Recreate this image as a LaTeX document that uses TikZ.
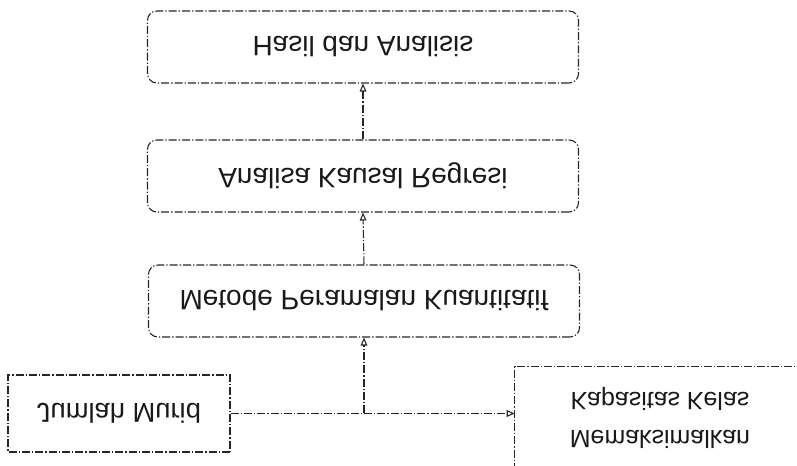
\documentclass[tikz,border=0pt]{standalone}
\usepackage{fontspec}
\setmainfont{Liberation Sans}
\usetikzlibrary{arrows.meta}
\begin{document}
\begin{tikzpicture}[x=0.75pt,y=-0.75pt,
  dline/.style={draw=black!85,line width=0.8pt,dash pattern=on 6pt off 1.5pt on 1pt off 1.5pt},
  mirrored/.style={yscale=-1},
  txt/.style={mirrored,align=center,text=black!90},
  stepbox/.style={dline,txt,font=\fontsize{21}{26}\selectfont,rounded corners=7pt,minimum width=431*0.75pt,minimum height=72*0.75pt,inner sep=0pt},
  plainbox/.style={dline,txt,font=\fontsize{20.5}{26}\selectfont,minimum width=222*0.75pt,minimum height=77*0.75pt,inner sep=0pt},
  arr/.style={dline,-{Triangle[open,length=6pt,width=5pt]}}]
\useasboundingbox (0,0) rectangle (797,466);
\clip (0,0) rectangle (797,466);
\node[stepbox] (h) at (363,47) {Hasil dan Analisis};
\node[stepbox] (a) at (363,176) {Analisa Kausal Regresi};
\node[stepbox] (m) at (364,301) {Metode Peramalan Kuantitatif};
\node[plainbox] (j) at (119,413.5) {Jumlah Murid};
\node[txt,font=\fontsize{18.7}{28}\selectfont,minimum width=290*0.75pt,minimum height=102*0.75pt,inner sep=0pt] (k) at (660,418) {Memaksimalkan\\Kapasitas Kelas};
\draw[dline] (k.south east) -- (k.south west) -- (k.north west);
\coordinate (jn) at (j.east -| m.north);
\draw[arr] (j.east) -- (j.east -| k.west);
\draw[arr] (jn) -- (m.north);
\draw[arr] (m.south) -- (a.north);
\draw[arr] (a.south) -- (h.north);
\end{tikzpicture}
\end{document}
